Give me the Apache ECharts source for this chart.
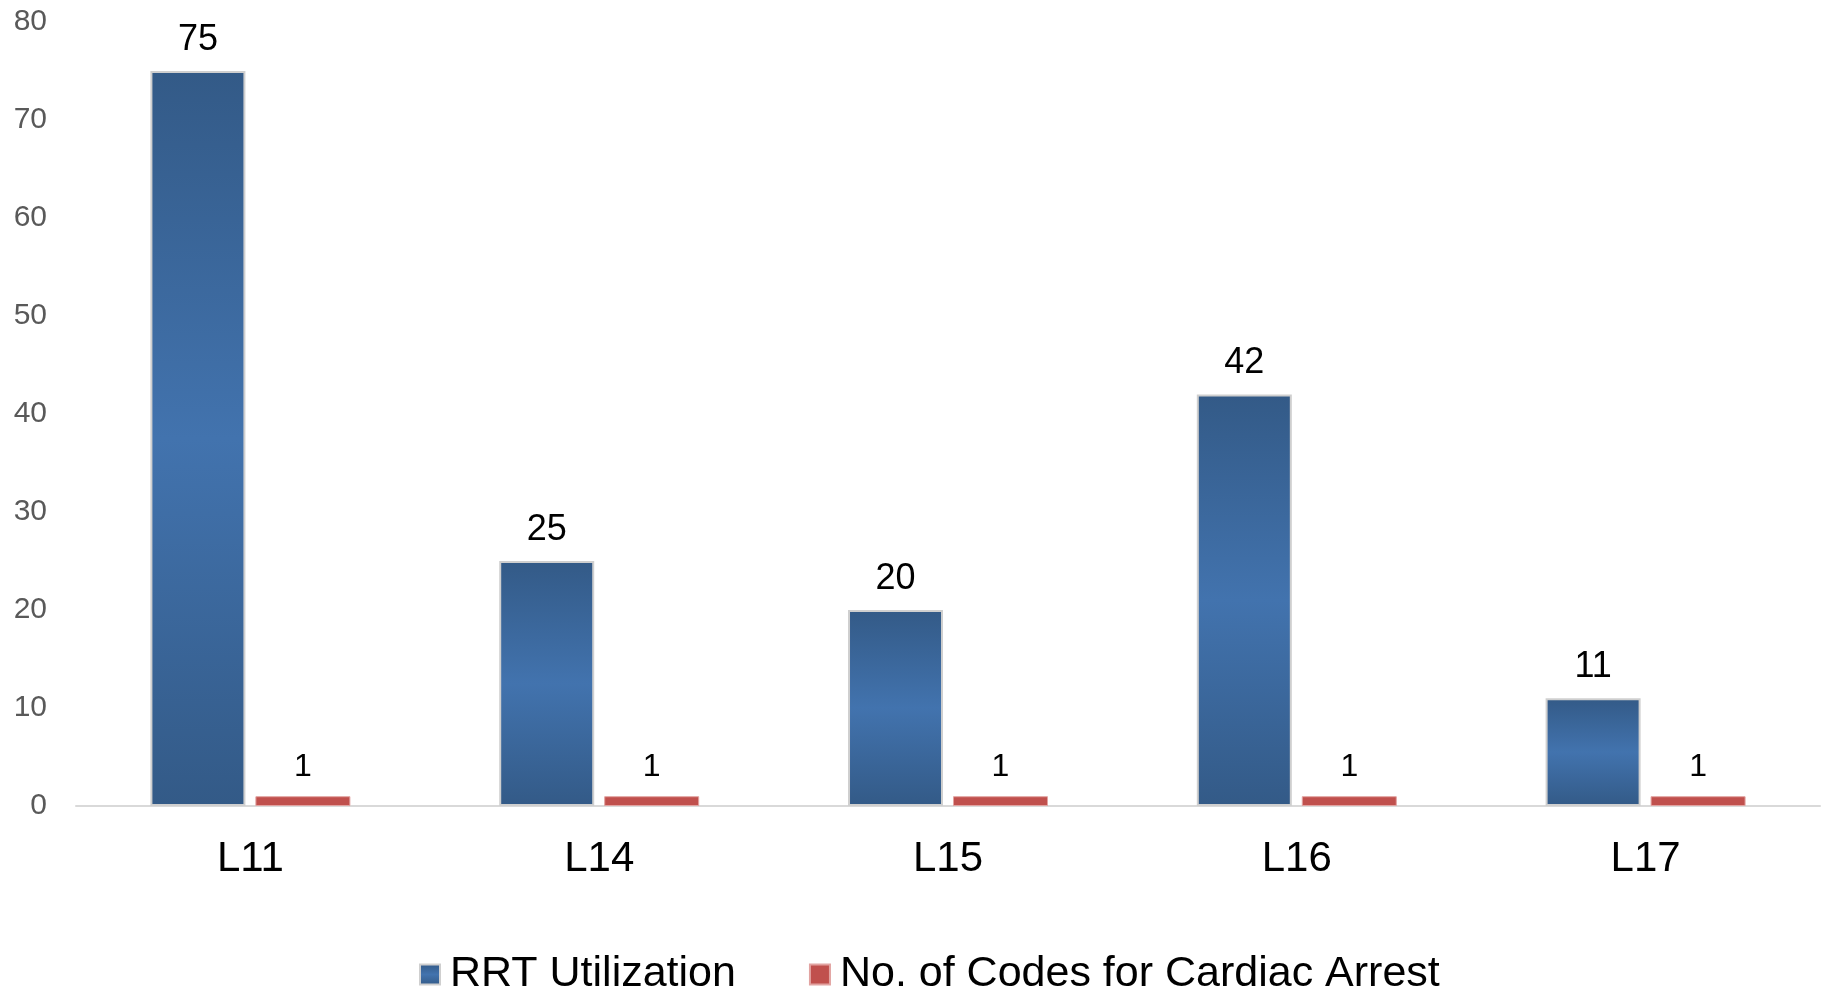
<!DOCTYPE html>
<html>
<head>
<meta charset="utf-8">
<script src="https://cdn.jsdelivr.net/npm/echarts@6/dist/echarts.min.js"></script>
<style>
	html, body { margin: 0; padding: 0; background: #fff; }
	#report_chart { width: 1830px; height: 991px; }
</style>
</head>
<body>
<div id="report_chart"></div>
<script>
var categories = ['L11', 'L14', 'L15', 'L16', 'L17'];
var rrtUtilization = [75, 25, 20, 42, 11];
var cardiacArrestCodes = [1, 1, 1, 1, 1];
var seriesNames = ['RRT Utilization', 'No. of Codes for Cardiac Arrest'];

function initChart() {
	var font = "'Liberation Sans', Arial, Helvetica, sans-serif";
	var blueFill = new echarts.graphic.LinearGradient(0, 0, 0, 1, [
		{ offset : 0, color : '#335a87' },
		{ offset : 0.5, color : '#4273ae' },
		{ offset : 1, color : '#335a87' }
	]);

	var option_bar = {
		backgroundColor : '#ffffff',
		animation : false,
		textStyle : {
			fontFamily : font
		},
		grid : {
			left : 76,
			right : 10,
			top : 22,
			bottom : 185
		},
		legend : {
			top : 948,
			left : 414,
			itemWidth : 20,
			itemHeight : 20,
			itemGap : 73,
			icon : 'rect',
			textStyle : {
				fontFamily : font,
				fontSize : 43,
				color : '#000000',
				padding : [0, 0, 0, 5]
			},
			data : seriesNames
		},
		xAxis : [ {
			type : 'category',
			data : categories,
			axisTick : { show : false },
			axisLine : {
				lineStyle : { color : '#d9d9d9', width : 2 }
			},
			axisLabel : {
				margin : 32,
				color : '#000000',
				fontFamily : font,
				fontSize : 42
			}
		} ],
		yAxis : [ {
			type : 'value',
			min : 0,
			max : 80,
			interval : 10,
			splitLine : { show : false },
			axisLine : { show : false },
			axisTick : { show : false },
			axisLabel : {
				margin : 29,
				color : '#595959',
				fontFamily : font,
				fontSize : 30
			}
		} ],
		series : [ {
			name : seriesNames[0],
			type : 'bar',
			barWidth : 95,
			barGap : '10.5%',
			data : rrtUtilization,
			itemStyle : {
				color : blueFill,
				borderColor : '#cfcfcf',
				borderWidth : 2
			},
			label : {
				show : true,
				position : 'top',
				distance : 13,
				color : '#000000',
				fontFamily : font,
				fontSize : 36
			}
		}, {
			name : seriesNames[1],
			type : 'bar',
			barWidth : 95,
			data : cardiacArrestCodes,
			itemStyle : {
				color : '#c0504d',
				borderColor : '#e2a3a1',
				borderWidth : 1
			},
			label : {
				show : true,
				position : 'top',
				distance : 13,
				color : '#000000',
				fontFamily : font,
				fontSize : 32
			}
		} ]
	};

	var myChart = echarts.init(document.getElementById('report_chart'));
	myChart.setOption(option_bar);
	window.myChart = myChart;

	window.addEventListener('resize', function() {
		myChart.resize();
	});
}

initChart();
</script>
</body>
</html>
